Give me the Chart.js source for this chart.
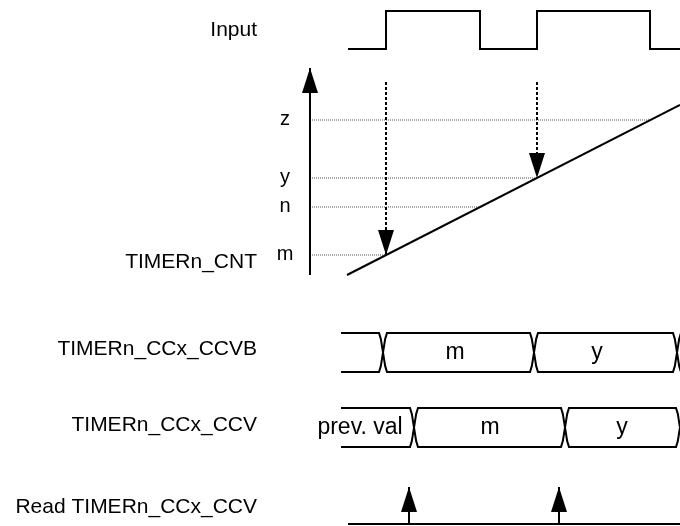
<!DOCTYPE html>
<html>
<head>
<meta charset="utf-8">
<title>Input capture timing</title>
<script src="https://cdn.jsdelivr.net/npm/chart.js@4.4.1/dist/chart.umd.min.js"></script>
<style>
  html, body { margin: 0; padding: 0; background: #fff; }
  #timing { display: block; }
</style>
</head>
<body>
<canvas id="timing" width="680" height="526"></canvas>
<script>
'use strict';

/* #################### data (time runs 0..680) #################### */
let timeEnd = 680;

let inputStart = 348;
let inputEdges = [386, 480, 537, 650];        // rise, fall, rise, fall

let counterLevels = ['m', 'n', 'y', 'z'];     // counter value seen at each input edge
let counterValues = [20, 68, 97, 155];
let rampTimes = [347, 680];
let rampCounts = [0, 170];
let counterAxisTime = 310;
let counterAxisTop = 207;
let captureArrowTop = 193;                     // where the dashed capture arrows start

let ccvbStart = 341;
let ccvbEdges = [383, 534, 677];
let ccvbValues = ['m', 'y'];
let ccvbValueTimes = [455, 597];

let ccvStart = 341;
let ccvEdges = [414, 565, 680];
let ccvValues = ['prev. val', 'm', 'y'];
let ccvValueTimes = [360, 490, 622];

let readStart = 348;
let readTimes = [409, 559];

let rowLabels = ['Input', 'TIMERn_CNT', 'TIMERn_CCx_CCVB', 'TIMERn_CCx_CCV', 'Read TIMERn_CCx_CCV'];

/* #################### layout #################### */
const W = 680, H = 526;
const FONT = "'Liberation Sans', Arial, sans-serif";
const busSlant = 4;
const labelRight = 257;
const rowLabelMid = [28, 260, 347, 423, 505];   // cap-height centre of each row label

//  a hidden y scale that puts level 0 at bottomPx and level `hi` at topPx
function laneScale(topPx, bottomPx, hi) {
  let unit = (bottomPx - topPx) / hi;
  let min = (bottomPx - H) / unit;
  return { type: 'linear', display: false, min: min, max: min + H / unit };
}

/* #################### helpers building the traces #################### */
function trace(points, axis, extra) {
  return Object.assign({
    data: points,
    yAxisID: axis,
    borderColor: '#000',
    borderWidth: 2,
    pointRadius: 0,
    fill: false,
    tension: 0,
    order: 0
  }, extra || {});
}

function inputWave() {
  let pts = [{ x: inputStart, y: 0 }];
  let level = 0;
  inputEdges.forEach(t => {
    pts.push({ x: t, y: level });
    level = 1 - level;
    pts.push({ x: t, y: level });
  });
  pts.push({ x: timeEnd, y: level });
  return pts;
}

//  one rail of a bus; each edge bends slightly into the crossing
function busLine(start, edges, level) {
  let bend = level + (0.5 - level) * 0.3;
  let pts = [{ x: start, y: level }];
  edges.forEach(t => {
    pts.push(
      { x: t - busSlant, y: level },
      { x: t - busSlant * 0.55, y: bend },
      { x: t, y: 0.5 },
      { x: t + busSlant * 0.55, y: bend },
      { x: t + busSlant, y: level }
    );
  });
  if (edges[edges.length - 1] + busSlant < timeEnd) {
    pts.push({ x: timeEnd, y: level });
  }
  return pts;
}

let datasets = [];

datasets.push(trace(inputWave(), 'yIn'));

//  counter axis with arrow, and the counting ramp
datasets.push(trace([{ x: counterAxisTime, y: 0 }, { x: counterAxisTime, y: counterAxisTop }], 'yCnt', { arrowHead: true }));
datasets.push(trace(rampTimes.map((t, i) => ({ x: t, y: rampCounts[i] })), 'yCnt'));

//  capture arrows on rising edges, dotted level lines on every edge
counterValues.forEach((v, i) => {
  if (i % 2 === 0) {
    datasets.push(trace([{ x: inputEdges[i], y: captureArrowTop }, { x: inputEdges[i], y: v }], 'yCnt',
      { borderDash: [3, 2], arrowHead: true }));
  }
  datasets.push(trace([{ x: counterAxisTime, y: v }, { x: inputEdges[i], y: v }], 'yCnt',
    { borderDash: [1, 1], borderWidth: 1, borderColor: '#555', order: 1 }));
});

//  bus lanes
datasets.push(trace(busLine(ccvbStart, ccvbEdges, 1), 'yCcvb'));
datasets.push(trace(busLine(ccvbStart, ccvbEdges, 0), 'yCcvb'));
datasets.push(trace(busLine(ccvStart, ccvEdges, 1), 'yCcv'));
datasets.push(trace(busLine(ccvStart, ccvEdges, 0), 'yCcv'));

//  read strobes
datasets.push(trace([{ x: readStart, y: 0 }, { x: timeEnd, y: 0 }], 'yRead'));
readTimes.forEach(t => {
  datasets.push(trace([{ x: t, y: 0 }, { x: t, y: 1 }], 'yRead', { arrowHead: true }));
});

/* #################### plugins #################### */
const whiteBackground = {
  id: 'whiteBackground',
  beforeDraw(chart) {
    const ctx = chart.ctx;
    ctx.save();
    ctx.fillStyle = '#fff';
    ctx.fillRect(0, 0, chart.width, chart.height);
    ctx.restore();
  }
};

//  filled arrow head at the last point of datasets flagged arrowHead
const arrowHeads = {
  id: 'arrowHeads',
  afterDatasetsDraw(chart) {
    const ctx = chart.ctx;
    chart.data.datasets.forEach((ds, i) => {
      if (!ds.arrowHead) return;
      const pts = chart.getDatasetMeta(i).data;
      const tip = pts[pts.length - 1];
      const from = pts[pts.length - 2];
      const angle = Math.atan2(tip.y - from.y, tip.x - from.x);
      ctx.save();
      ctx.translate(tip.x, tip.y);
      ctx.rotate(angle);
      ctx.beginPath();
      ctx.moveTo(0, 0);
      ctx.lineTo(-25, -8);
      ctx.lineTo(-25, 8);
      ctx.closePath();
      ctx.fillStyle = '#000';
      ctx.fill();
      ctx.restore();
    });
  }
};

const texts = {
  id: 'texts',
  afterDraw(chart) {
    const ctx = chart.ctx;
    const sx = chart.scales.x;
    ctx.save();
    ctx.fillStyle = '#000';
    ctx.textBaseline = 'alphabetic';

    //  row names
    ctx.font = '21px ' + FONT;
    ctx.textAlign = 'right';
    rowLabels.forEach((txt, i) => {
      ctx.fillText(txt, labelRight, rowLabelMid[i] + 0.358 * 21);
    });

    //  counter levels beside the axis
    ctx.font = '20px ' + FONT;
    ctx.textAlign = 'center';
    const levelX = sx.getPixelForValue(counterAxisTime) - 25;
    counterLevels.forEach((name, i) => {
      ctx.fillText(name, levelX, chart.scales.yCnt.getPixelForValue(counterValues[i]) + 4.5);
    });

    //  bus contents
    ctx.font = '23px ' + FONT;
    const busText = (values, times, axis) => {
      const mid = chart.scales[axis].getPixelForValue(0.5);
      values.forEach((txt, i) => ctx.fillText(txt, sx.getPixelForValue(times[i]), mid + 6));
    };
    busText(ccvbValues, ccvbValueTimes, 'yCcvb');
    busText(ccvValues, ccvValueTimes, 'yCcv');
    ctx.restore();
  }
};

/* #################### chart #################### */
new Chart(document.getElementById('timing'), {
  type: 'line',
  data: { datasets: datasets },
  options: {
    responsive: false,
    animation: false,
    events: [],
    layout: { padding: 0 },
    plugins: { legend: { display: false }, tooltip: { enabled: false }, title: { display: false } },
    scales: {
      x: { type: 'linear', display: false, min: 0, max: timeEnd },
      yIn: laneScale(11, 49, 1),
      yCnt: laneScale(175, 275, 100),
      yCcvb: laneScale(333, 372, 1),
      yCcv: laneScale(408, 447, 1),
      yRead: laneScale(487, 524, 1)
    }
  },
  plugins: [whiteBackground, arrowHeads, texts]
});
</script>
</body>
</html>
